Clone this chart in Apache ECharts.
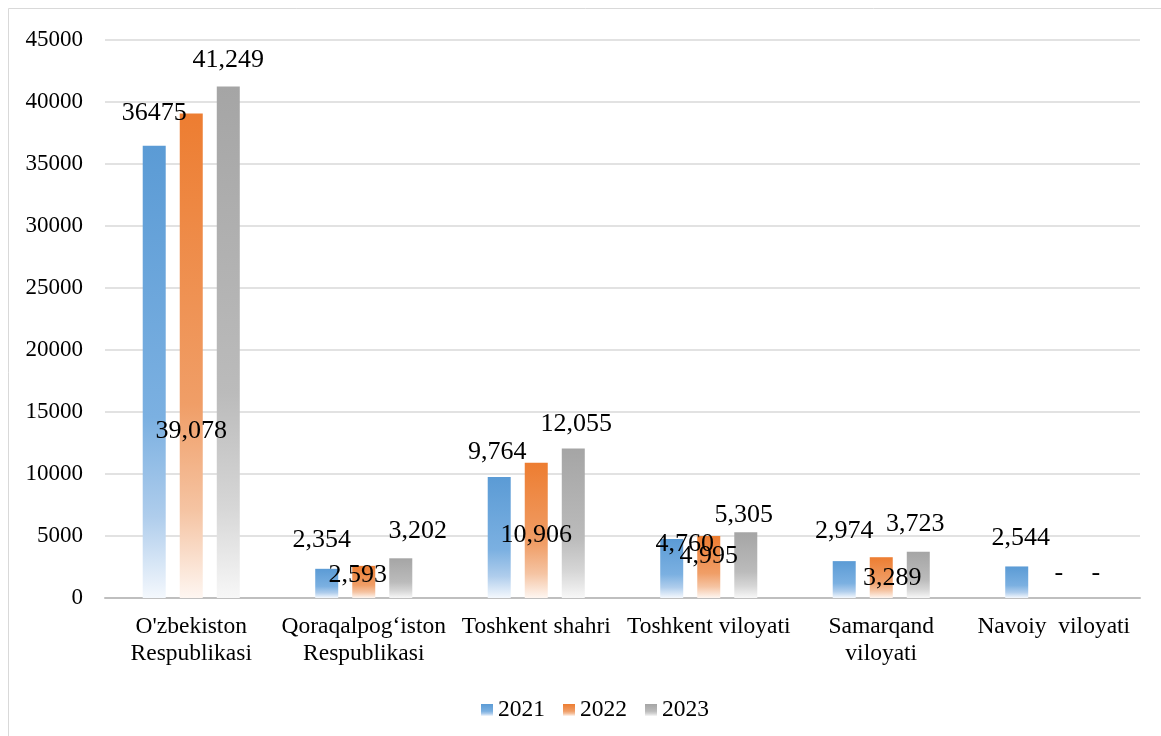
<!DOCTYPE html>
<html>
<head>
<meta charset="utf-8">
<script src="https://cdn.jsdelivr.net/npm/echarts@6/dist/echarts.min.js"></script>
<style>
html,body{margin:0;padding:0;background:#fff;}
#chart{width:1161px;height:736px;}
</style>
</head>
<body>
<div id="chart"></div>
<script>
// ---- data ----
const categories = ["O'zbekiston\nRespublikasi", "Qoraqalpog‘iston\nRespublikasi", "Toshkent shahri", "Toshkent viloyati", "Samarqand\nviloyati", "Navoiy  viloyati"];
const seriesNames = ["2021", "2022", "2023"];
const values2021 = [36475, 2354, 9764, 4760, 2974, 2544];
const values2022 = [39078, 2593, 10906, 4995, 3289, 0];
const values2023 = [41249, 3202, 12055, 5305, 3723, 0];
const yTicks = [0, 5000, 10000, 15000, 20000, 25000, 30000, 35000, 40000, 45000];

// ---- label layout (style only) ----
const off2021 = [[0,-20],[-5,-16],[-2,-12],[13,18],[0,-17],[4,-15.5]];
const off2022 = [[0,-153.5],[-6,-9.5],[0,-50],[0,-29],[11,-7],[5,-12]];
const off2023 = [[0,-13.5],[17,-14],[3,-11.5],[-2,-4],[-3,-15],[5,-12]];
const plain2021 = [0]; // label shown without thousands separator

const serif = '"Liberation Serif","Times New Roman",serif';

function grad(stops){
  return {type:'linear',x:0,y:0,x2:0,y2:1,colorStops:stops.map(s=>({offset:s[0],color:s[1]}))};
}
const colors = [
  grad([[0,'#5B9BD5'],[0.6,'#7BB0E1'],[0.82,'#AFCDEC'],[1,'#F4F8FD']]),
  grad([[0,'#ED7D31'],[0.6,'#F09E67'],[0.82,'#F5C4A3'],[1,'#FEF6F1']]),
  grad([[0,'#A5A5A5'],[0.6,'#BBBBBB'],[0.82,'#D6D6D6'],[1,'#F7F7F7']])
];

function fmt(v, plain){
  if (v === 0) return '-';
  return plain ? String(v) : v.toLocaleString('en-US');
}

function build(values, offs, position, plainIdx){
  return values.map((v,i)=>({
    value: v,
    label: {
      position: position,
      distance: 0,
      offset: offs[i],
      formatter: fmt(v, (plainIdx||[]).indexOf(i) >= 0)
    }
  }));
}

const allValues = [values2021, values2022, values2023];
const allOffs = [off2021, off2022, off2023];
const positions = ['top','insideBottom','top'];

const series = seriesNames.map((name, k)=>({
  name: name,
  type: 'bar',
  barWidth: 23,
  barGap: '61%',
  itemStyle: {color: colors[k]},
  label: {
    show: true,
    fontFamily: serif,
    fontSize: 26,
    lineHeight: 26,
    color: '#000'
  },
  data: build(allValues[k], allOffs[k], positions[k], k === 0 ? plain2021 : [])
}));

const chart = echarts.init(document.getElementById('chart'), null, {renderer:'canvas'});
chart.setOption({
  animation: false,
  backgroundColor: '#fff',
  graphic: [{
    type: 'rect',
    shape: {x: 8.5, y: 8.5, width: 1300, height: 900},
    style: {fill: 'none', stroke: '#d9d9d9', lineWidth: 1},
    silent: true
  }],
  grid: {left: 105, right: 21, top: 40, bottom: 138, containLabel: false},
  legend: {
    data: seriesNames,
    top: 693,
    left: 476,
    itemWidth: 12,
    itemHeight: 12,
    itemGap: 18,
    icon: 'rect',
    textStyle: {fontFamily: serif, fontSize: 23.5, color: '#000'}
  },
  xAxis: {
    type: 'category',
    data: categories,
    axisTick: {show: false},
    axisLine: {show: true, lineStyle: {color: '#bfbfbf', width: 2}},
    axisLabel: {
      interval: 0,
      margin: 15,
      fontFamily: serif,
      fontSize: 23.5,
      lineHeight: 27,
      color: '#000'
    }
  },
  yAxis: {
    type: 'value',
    min: 0,
    max: 45000,
    interval: 5000,
    axisLine: {show: false},
    axisTick: {show: false},
    splitLine: {lineStyle: {color: '#d9d9d9', width: 1.5}},
    axisLabel: {
      margin: 22,
      fontFamily: serif,
      fontSize: 23,
      color: '#000',
      formatter: v => yTicks.indexOf(v) >= 0 ? String(v) : ''
    }
  },
  series: series
});
</script>
</body>
</html>
